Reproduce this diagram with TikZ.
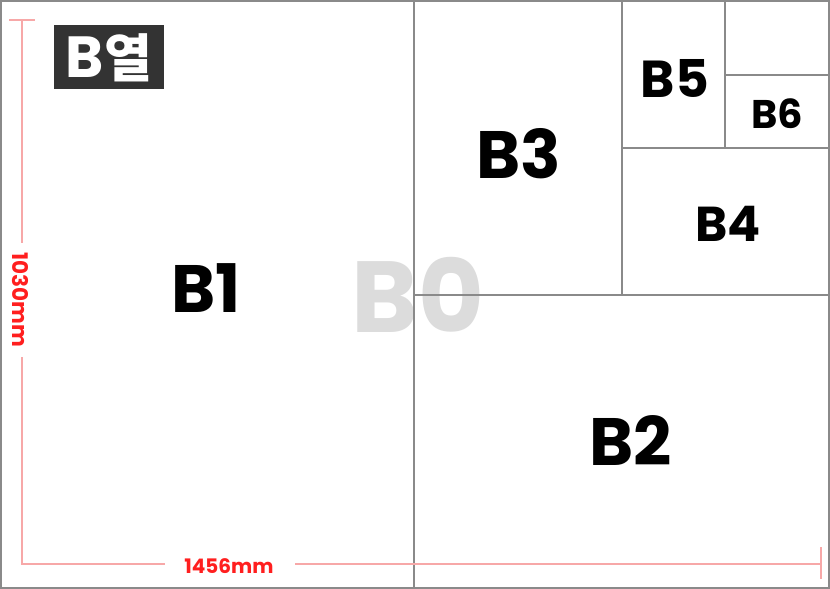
\documentclass[tikz,border=0pt]{standalone}
\usepackage{fontspec}
\setmainfont{Poppins}
\newfontfamily\kr{Noto Sans CJK KR}
\definecolor{gridc}{HTML}{8A8A8A}
\definecolor{dimc}{HTML}{F7A8A8}
\definecolor{dimt}{HTML}{FF1F1F}
\definecolor{boxc}{HTML}{333333}
\definecolor{bzero}{HTML}{DCDCDC}
\tikzset{
  grid line/.style={draw=gridc,line width=1.6pt},
  dim line/.style={draw=dimc,line width=1.6pt},
  dim label/.style={text=dimt,font=\fontsize{20}{20}\selectfont\bfseries,inner sep=0pt},
  size label/.style={font=\bfseries,inner sep=0pt,anchor=base},
}
\begin{document}
\begin{tikzpicture}[x=1pt,y=-1pt]
\useasboundingbox (0,0) rectangle (830,589);
\fill[white] (0,0) rectangle (830,589);
% B0 watermark
\node[size label,text=bzero,font=\fontsize{101}{101}\selectfont\bfseries] (b0) at (418,332) {B0};
% grid
\draw[grid line] (1,1) rectangle (829,588);
\draw[grid line] (414,1) -- (414,588);
\draw[grid line] (414,295) -- (829,295);
\draw[grid line] (622,1) -- (622,295);
\draw[grid line] (622,148) -- (829,148);
\draw[grid line] (725,1) -- (725,148);
\draw[grid line] (725,75) -- (829,75);
% labels
\node[size label,font=\fontsize{67}{67}\selectfont\bfseries] (b1) at (206,312) {B1};
\node[size label,font=\fontsize{67}{67}\selectfont\bfseries] (b2) at (631,465) {B2};
\node[size label,font=\fontsize{67}{67}\selectfont\bfseries] (b3) at (519,178) {B3};
\node[size label,font=\fontsize{49}{49}\selectfont\bfseries] (b4) at (728,241) {B4};
\node[size label,font=\fontsize{52}{52}\selectfont\bfseries] (b5) at (675,97) {B5};
\node[size label,font=\fontsize{40}{40}\selectfont\bfseries] (b6) at (777,128) {B6};
% title box
\node[fill=boxc,minimum width=110pt,minimum height=64pt,inner sep=0pt] (title) at (109,57) {};
\node[text=white,inner sep=0pt,anchor=base] (titletext) at (109,77)
  {\fontsize{58}{58}\selectfont\bfseries B\kr\bfseries\fontsize{52}{52}\selectfont 열};
% dimension lines
\coordinate (vt) at (22,20);
\coordinate (vc) at (22,564);
\coordinate (he) at (821,564);
\node[dim label,rotate=-90,font=\fontsize{21.5}{21.5}\selectfont\bfseries] (v) at (20,300) {1030mm};
\node[dim label] (h) at (229,566) {1456mm};
\draw[dim line] (9,20) -- (35,20);
\draw[dim line] (vt) -- (22,243);
\draw[dim line] (22,357) -- (vc) -- (165,564);
\draw[dim line] (295,564) -- (he);
\draw[dim line] (821,547) -- (821,579);
\end{tikzpicture}
\end{document}
